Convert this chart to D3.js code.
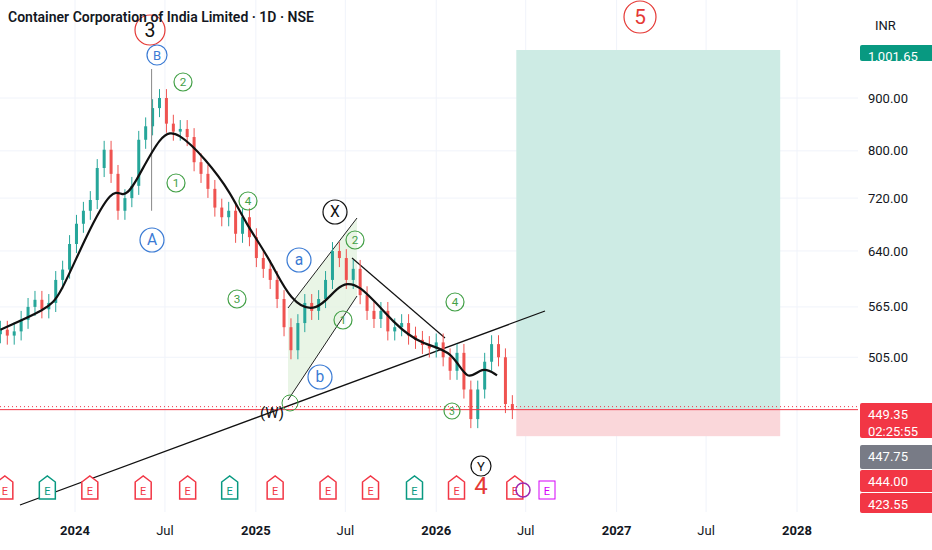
<!DOCTYPE html><html><head><meta charset="utf-8"><script src="https://cdn.jsdelivr.net/npm/d3@7"></script>
<style>body{margin:0;background:#fff}svg{font-family:Roboto,sans-serif}</style></head><body><svg id="c" width="932" height="550"></svg>
<script>
const closes=[537,530,535,549,565,574,562,570,600,614,650,680,700,717,770,802,760,700,720,740,820,845,880,900,850,835,840,825,780,760,735,705,690,700,665,690,660,630,615,600,575,540,513,545,570,560,575,600,640,630,600,615,580,560,550,560,535,540,545,530,525,519,515,522,505,490,510,470,440,470,500,520,505,455,449];
const startDate=new Date(2023,7,3);
const maPts=[["2023-08-03",537],["2023-11-05",562],["2023-12-01",578],["2024-01-25",665],["2024-03-17",738],["2024-04-06",722],["2024-04-26",733],["2024-06-24",836],["2024-07-28",834],["2024-09-21",786],["2024-11-12",728],["2024-12-10",682],["2025-01-31",627],["2025-03-12",571],["2025-05-05",557],["2025-06-14",592],["2025-07-24",601],["2025-10-11",541],["2025-12-05",519],["2026-02-03",513],["2026-03-05",476],["2026-04-04",496],["2026-05-04",485]];
const priceTicks=[900,800,720,640,565,505];
const timeTicks=[["2024-01-01","2024"],["2024-07-01","Jul"],["2025-01-01","2025"],["2025-07-01","Jul"],["2026-01-01","2026"],["2026-07-01","Jul"],["2027-01-01","2027"],["2027-07-01","Jul"],["2028-01-01","2028"]];
const earnings=[["2023-08-12","r"],["2023-11-06","g"],["2024-01-31","r"],["2024-05-18","r"],["2024-08-16","r"],["2024-11-09","g"],["2025-02-09","r"],["2025-05-27","r"],["2025-08-21","r"],["2025-11-18","g"],["2026-02-11","r"],["2026-06-09","r"]];
const labels=[["3",150,30,"#e53935",15,"#111"],["B",157,55,"#3b7bd4",10,"#3b7bd4"],["2",183,82,"#43a047",9,"#43a047"],["1",176,183,"#43a047",9,"#43a047"],["A",152,240,"#3b7bd4",12,"#3b7bd4"],["4",248,201,"#43a047",9,"#43a047"],["3",237,299,"#43a047",9,"#43a047"],["X",335,212,"#111",12,"#111"],["a",299,260,"#3b7bd4",12,"#3b7bd4"],["2",355,240,"#43a047",9,"#43a047"],["1",343,320,"#43a047",9,"#43a047"],["b",320,377,"#3b7bd4",12,"#3b7bd4"],["4",455,302,"#43a047",9,"#43a047"],["3",452,411,"#43a047",8,"#43a047"],["Y",481,466,"#111",10,"#111"],["5",640,17,"#e53935",16,"#e53935"]];
const svg=d3.select("#c");
const x=d3.scaleTime().domain([new Date(2024,0,1),new Date(2028,0,1)]).range([75,797]);
const y=d3.scaleLog().domain([900,449]).range([98,410]);
const pw=858;
const g=svg.append("g");
timeTicks.forEach(t=>g.append("line").attr("x1",x(new Date(t[0]))).attr("x2",x(new Date(t[0]))).attr("y1",0).attr("y2",512).attr("stroke","#f0f3fa"));
priceTicks.forEach(p=>g.append("line").attr("x1",0).attr("x2",pw).attr("y1",y(p)).attr("y2",y(p)).attr("stroke","#f0f3fa"));
const d0=new Date(2026,5,12),d1=new Date(2027,10,28);
g.append("rect").attr("x",x(d0)).attr("width",x(d1)-x(d0)).attr("y",y(1001.65)).attr("height",y(449.35)-y(1001.65)).attr("fill","#cdebe4");
g.append("rect").attr("x",x(d0)).attr("width",x(d1)-x(d0)).attr("y",y(449.35)).attr("height",y(423.55)-y(449.35)).attr("fill","#fad7da");
g.append("path").attr("d","M288,308L357,218L357,296L288,400Z").attr("fill","#e3f2e0").attr("opacity",0.8);
g.append("line").attr("x1",288).attr("y1",308).attr("x2",357).attr("y2",218).attr("stroke","#222");
g.append("line").attr("x1",288).attr("y1",400).attr("x2",357).attr("y2",296).attr("stroke","#222");
g.append("line").attr("x1",20).attr("y1",505).attr("x2",545).attr("y2",311).attr("stroke","#111").attr("stroke-width",1.3);
g.append("line").attr("x1",352).attr("y1",258).attr("x2",445).attr("y2",338).attr("stroke","#111").attr("stroke-width",1.2);
const dt=i=>d3.timeDay.offset(startDate,i*14);
closes.forEach((c,i)=>{const o=i?closes[i-1]:c*0.99;const up=c>=o;const col=up?"#26a69a":"#ef5350";const xx=x(dt(i));
const hi=Math.max(o,c)*1.02,lo=Math.min(o,c)*0.98;
g.append("line").attr("x1",xx).attr("x2",xx).attr("y1",y(hi)).attr("y2",y(lo)).attr("stroke",col);
g.append("rect").attr("x",xx-1.5).attr("width",3).attr("y",y(Math.max(o,c))).attr("height",Math.max(1,Math.abs(y(o)-y(c)))).attr("fill",col);});
g.append("line").attr("x1",x(new Date(2024,5,4))).attr("x2",x(new Date(2024,5,4))).attr("y1",y(960)).attr("y2",y(700)).attr("stroke","#888");
g.append("path").datum(maPts).attr("d",d3.line().curve(d3.curveBasis).x(d=>x(new Date(d[0]))).y(d=>y(d[1]))).attr("fill","none").attr("stroke","#111").attr("stroke-width",2.2);
g.append("line").attr("x1",0).attr("x2",pw).attr("y1",y(449.35)).attr("y2",y(449.35)).attr("stroke","#f23645");
g.append("line").attr("x1",0).attr("x2",pw).attr("y1",y(449.35)-3).attr("y2",y(449.35)-3).attr("stroke","#f23645").attr("stroke-dasharray","1,3");
labels.forEach(l=>{g.append("circle").attr("cx",l[1]).attr("cy",l[2]).attr("r",l[4]).attr("fill","none").attr("stroke",l[3]).attr("stroke-width",1.2);
g.append("text").attr("x",l[1]).attr("y",l[2]).attr("dy","0.35em").attr("text-anchor","middle").attr("font-size",l[4]*1.3).attr("fill",l[5]).text(l[0]);});
g.append("text").attr("x",272).attr("y",413).attr("dy","0.35em").attr("text-anchor","middle").attr("font-size",15).attr("fill","#111").text("(W)");
g.append("circle").attr("cx",290).attr("cy",403).attr("r",8).attr("fill","none").attr("stroke","#43a047");
g.append("text").attr("x",481).attr("y",486).attr("dy","0.35em").attr("text-anchor","middle").attr("font-size",24).attr("fill","#e53935").text("4");
earnings.forEach(e=>{const xx=x(new Date(e[0]));const col=e[1]=="g"?"#089981":"#f23645";
g.append("path").attr("d",`M${xx-8},${482}L${xx},${476}L${xx+8},${482}L${xx+8},${499}L${xx-8},${499}Z`).attr("fill","#fff").attr("stroke",col).attr("stroke-width",1.5);
g.append("text").attr("x",xx).attr("y",491).attr("dy","0.35em").attr("text-anchor","middle").attr("font-size",11).attr("fill",col).text("E");});
g.append("circle").attr("cx",523).attr("cy",490).attr("r",7).attr("fill","none").attr("stroke","#9c27b0").attr("stroke-width",1.5);
g.append("rect").attr("x",539).attr("y",481).attr("width",16).attr("height",18).attr("fill","#fff").attr("stroke","#d500f9");
g.append("text").attr("x",547).attr("y",491).attr("dy","0.35em").attr("text-anchor","middle").attr("font-size",11).attr("fill","#d500f9").text("E");
svg.append("rect").attr("x",pw).attr("y",0).attr("width",932-pw).attr("height",550).attr("fill","#fff");
svg.append("rect").attr("x",0).attr("y",512).attr("width",pw).attr("height",38).attr("fill","#fff");
priceTicks.forEach(p=>svg.append("text").attr("x",868).attr("y",y(p)).attr("dy","0.35em").attr("font-size",13).attr("fill","#131722").text(d3.format(".2f")(p)));
svg.append("text").attr("x",875).attr("y",25).attr("dy","0.35em").attr("font-size",13).attr("fill","#131722").text("INR");
const tag=(yy,h,col,lines)=>{svg.append("rect").attr("x",860).attr("y",yy).attr("width",col=="#787b86"?77:75).attr("height",h).attr("rx",2).attr("fill",col);
lines.forEach((t,i)=>svg.append("text").attr("x",868).attr("y",yy+11+i*17).attr("dy","0.35em").attr("font-size",13).attr("fill","#fff").text(t));};
tag(45,16,"#089981",["1,001.65"]);
tag(403,35,"#f23645",["449.35","02:25:55"]);
tag(445,24,"#787b86",["447.75"]);
tag(470,22,"#f23645",["444.00"]);
tag(493,20,"#f23645",["423.55"]);
timeTicks.forEach(t=>svg.append("text").attr("x",x(new Date(t[0]))).attr("y",530).attr("dy","0.35em").attr("text-anchor","middle").attr("font-size",13).attr("font-weight",t[1]=="Jul"?400:700).attr("fill","#131722").text(t[1]));
svg.append("text").attr("x",8).attr("y",22).attr("font-size",14).attr("font-weight",600).attr("fill","#131722").text("Container Corporation of India Limited · 1D · NSE");
</script></body></html>
